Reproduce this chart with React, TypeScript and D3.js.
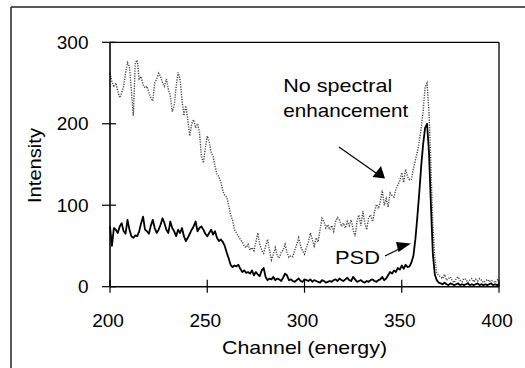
import React from "react";
import * as d3 from "d3";

// Channel numbers 200..400 (one per channel)
const channels: number[] = d3.range(200, 401);

// "No spectral enhancement" (dotted) intensity per channel
const nseValues: number[] = [
  262, 252, 245, 250, 240, 232, 238, 246, 262, 275,
  270, 240, 210, 275, 278, 255, 258, 248, 244, 246,
  238, 232, 228, 250, 255, 262, 258, 250, 246, 255,
  242, 235, 215, 222, 245, 263, 255, 230, 210, 222,
  205, 185, 200, 205, 195, 200, 190, 160, 152, 170,
  185, 178, 165, 160, 148, 138, 135, 128, 118, 112,
  110, 100, 88, 82, 70, 66, 62, 58, 55, 50,
  48, 52, 45, 48, 44, 55, 66, 52, 45, 41,
  50, 58, 45, 33, 40, 48, 38, 35, 42, 45,
  52, 42, 36, 38, 37, 45, 52, 60, 50, 44,
  40, 48, 55, 66, 58, 50, 60, 55, 70, 84,
  80, 72, 76, 70, 75, 68, 80, 85, 82, 74,
  78, 72, 80, 75, 82, 70, 62, 80, 88, 75,
  93, 78, 70, 85, 88, 80, 92, 101, 96, 105,
  119, 100, 108, 98, 115, 112, 110, 120, 125, 130,
  140, 128, 144, 135, 131, 132, 145, 155, 165, 178,
  195, 215, 245, 250, 215, 150, 75, 35, 17, 14,
  12, 10, 15, 8, 10, 12, 7, 5, 10, 12,
  8, 6, 10, 9, 5, 8, 10, 6, 9, 7,
  10, 8, 5, 7, 9, 6, 8, 7, 5, 8,
  10,
];

// PSD (solid) intensity per channel
const psdValues: number[] = [
  74, 50, 72, 70, 66, 74, 78, 68, 65, 82,
  70, 62, 60, 63, 62, 68, 78, 86, 70, 68,
  65, 75, 82, 72, 66, 70, 76, 84, 78, 70,
  66, 80, 72, 68, 62, 70, 66, 72, 62, 56,
  60, 65, 70, 74, 80, 68, 72, 74, 70, 65,
  62, 66, 70, 64, 68, 60, 56, 58, 55, 50,
  42, 35, 27, 24, 26, 25, 27, 22, 18, 20,
  17, 18, 16, 20, 14, 18, 15, 13, 20, 23,
  12, 8, 10, 9, 12, 8, 10, 9, 7, 11,
  16, 14, 8, 9, 7, 6, 8, 10, 7, 6,
  9, 8, 7, 9, 6, 8, 7, 6, 5, 8,
  7, 5, 6, 7, 6, 8, 9, 7, 10, 8,
  7, 9, 11, 8, 7, 12, 9, 6, 7, 8,
  6, 5, 7, 6, 8, 9, 7, 6, 8, 9,
  12, 8, 10, 14, 18, 16, 20, 18, 23, 21,
  26, 22, 27, 24, 25, 30, 38, 58, 85, 115,
  148, 175, 195, 200, 165, 100, 40, 15, 8, 5,
  4, 3, 5, 3, 2, 4, 3, 2, 3, 4,
  2, 3, 2, 3, 4, 2, 3, 2, 3, 4,
  2, 3, 2, 3, 2, 3, 4, 2, 3, 2,
  3,
];

const xTicks: number[] = [200, 250, 300, 350, 400];
const yTicks: number[] = [0, 100, 200, 300];

const FONT = "'Liberation Sans', Arial, Helvetica, sans-serif";

export default function App() {
  const W = 525;
  const H = 368;
  const x = d3.scaleLinear().domain([200, 400]).range([110, 499]);
  const y = d3.scaleLinear().domain([0, 300]).range([286.7, 42.3]);

  const line = d3
    .line<number>()
    .x((_, i) => x(channels[i]))
    .y((d) => y(d));

  const nsePath = line(nseValues) || "";
  const psdPath = line(psdValues) || "";

  const [x0, x1] = x.range();
  const [y0, y1] = y.range();

  return (
    <svg
      width={W}
      height={H}
      viewBox={`0 0 ${W} ${H}`}
      style={{ position: "absolute", left: 0, top: 0, background: "#fff" }}
    >
      <rect x={0} y={0} width={W} height={H} fill="#fff" />
      {/* outer frame */}
      <line x1={11} y1={7} x2={W} y2={7} stroke="#222" strokeWidth={1.5} />
      <line x1={11} y1={7} x2={11} y2={H} stroke="#222" strokeWidth={1.5} />

      {/* series */}
      <path
        d={nsePath}
        fill="none"
        stroke="#444"
        strokeWidth={1.4}
        strokeDasharray="1.2,1.3"
      />
      <path d={psdPath} fill="none" stroke="#000" strokeWidth={1.8} strokeLinejoin="round" />

      {/* plot box */}
      <line x1={x0} y1={y1} x2={x1} y2={y1} stroke="#000" strokeWidth={1.3} />
      <line x1={x1} y1={y1} x2={x1} y2={y0} stroke="#000" strokeWidth={1.3} />
      <line x1={x0} y1={y0} x2={x1} y2={y0} stroke="#000" strokeWidth={1.6} />
      <line x1={x0} y1={y0} x2={x0} y2={y1} stroke="#000" strokeWidth={1.6} />

      {/* y ticks */}
      {yTicks.map((t) => (
        <g key={"y" + t}>
          <line x1={x0 - 8} x2={x0 + 6} y1={y(t)} y2={y(t)} stroke="#000" strokeWidth={1.2} />
          <text
            x={88.5}
            y={y(t)}
            dy="0.35em"
            textAnchor="end"
            fontFamily={FONT}
            fontSize={19}
            fill="#000"
          >
            {t}
          </text>
        </g>
      ))}

      {/* x ticks */}
      {xTicks.map((t) => (
        <g key={"x" + t}>
          <line x1={x(t)} x2={x(t)} y1={y0 - 7} y2={y0 + 6} stroke="#000" strokeWidth={1.2} />
          <text
            x={x(t) - 2}
            y={327}
            textAnchor="middle"
            fontFamily={FONT}
            fontSize={19}
            fill="#000"
          >
            {t}
          </text>
        </g>
      ))}

      {/* axis titles */}
      <text
        x={304.5}
        y={354}
        textAnchor="middle"
        fontFamily={FONT}
        fontSize={18.5}
        textLength={165}
        lengthAdjust="spacingAndGlyphs"
        fill="#000"
      >
        Channel (energy)
      </text>
      <text
        transform="translate(40.5,165.5) rotate(-90)"
        textAnchor="middle"
        fontFamily={FONT}
        fontSize={18.5}
        textLength={75}
        lengthAdjust="spacingAndGlyphs"
        fill="#000"
      >
        Intensity
      </text>

      {/* annotations */}
      <text
        x={283.3}
        y={91.5}
        fontFamily={FONT}
        fontSize={18.5}
        textLength={109}
        lengthAdjust="spacingAndGlyphs"
        fill="#000"
      >
        No spectral
      </text>
      <text
        x={283.3}
        y={116.5}
        fontFamily={FONT}
        fontSize={18.5}
        textLength={125}
        lengthAdjust="spacingAndGlyphs"
        fill="#000"
      >
        enhancement
      </text>
      <text
        x={335}
        y={263.5}
        fontFamily={FONT}
        fontSize={18.5}
        textLength={45}
        lengthAdjust="spacingAndGlyphs"
        fill="#000"
      >
        PSD
      </text>

      {/* arrows */}
      <line x1={339} y1={147} x2={376} y2={173} stroke="#000" strokeWidth={1.2} />
      <polygon points="372.5,177 385,178.5 381,166" fill="#000" />
      <line x1={385} y1={256} x2={401} y2={248} stroke="#000" strokeWidth={1.2} />
      <polygon points="398.5,252 411,243.5 396,242" fill="#000" />
    </svg>
  );
}
